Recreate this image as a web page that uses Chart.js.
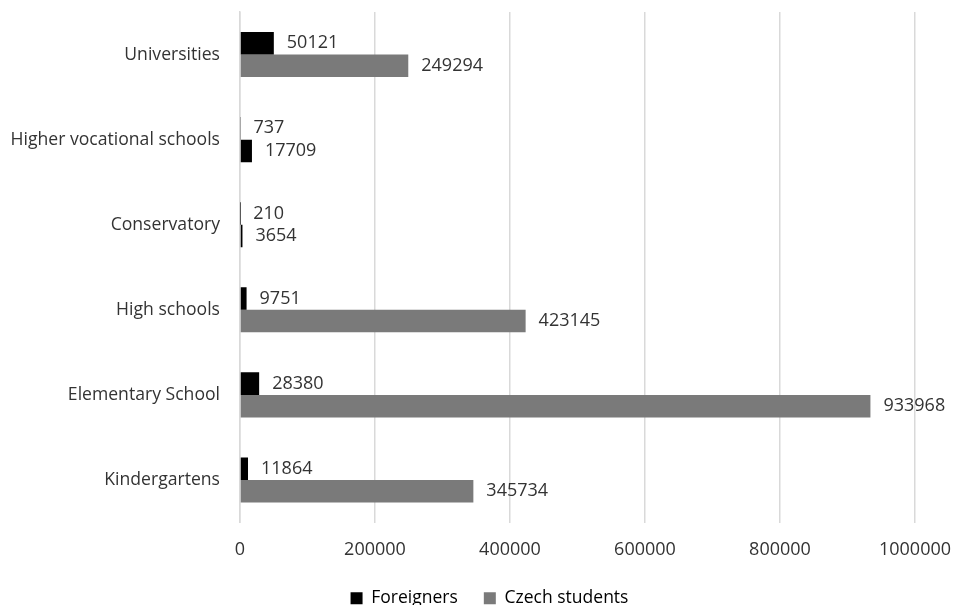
<!DOCTYPE html>
<html>
<head>
<meta charset="utf-8">
<script src="https://cdn.jsdelivr.net/npm/chart.js@4"></script>
<style>
  html, body { margin: 0; padding: 0; background: #fff; }
  #wrap { width: 954px; height: 605px; }
</style>
</head>
<body>
<div id="wrap"><canvas id="chart" width="954" height="605"></canvas></div>
<script>
// Students by school type
const categories = ['Universities', 'Higher vocational schools', 'Conservatory', 'High schools', 'Elementary School', 'Kindergartens'];
const foreigners = [50121, 737, 210, 9751, 28380, 11864];
const czechStudents = [249294, 17709, 3654, 423145, 933968, 345734];
const xTicks = [0, 200000, 400000, 600000, 800000, 1000000];

const textColor = '#333333';
const grayBar = '#7a7a7a';
const fontFamily = '"Open Sans", "Liberation Sans", sans-serif';

// the original colours the small Czech bars black
const czechColors = czechStudents.map((v, i) => (i === 1 || i === 2) ? '#000000' : grayBar);

// value labels drawn just past the end of each bar
const barLabels = {
    id: 'barLabels',
    afterDatasetsDraw(chart) {
        const ctx = chart.ctx;
        ctx.save();
        ctx.font = '18px ' + fontFamily;
        ctx.fillStyle = textColor;
        ctx.textAlign = 'left';
        ctx.textBaseline = 'middle';
        chart.data.datasets.forEach((ds, di) => {
            const meta = chart.getDatasetMeta(di);
            meta.data.forEach((bar, i) => {
                ctx.fillText(String(ds.data[i]), bar.x + 13, bar.y);
            });
        });
        ctx.restore();
    }
};

// legend sits a bit right of the canvas centre in the original
const legendShift = {
    id: 'legendShift',
    afterLayout(chart) {
        if (chart.legend) {
            chart.legend.left += 64;
            chart.legend.right += 0;
        }
    }
};

new Chart(document.getElementById('chart').getContext('2d'), {
    type: 'bar',
    data: {
        labels: categories,
        datasets: [{
            label: 'Foreigners',
            data: foreigners,
            backgroundColor: '#000000',
            categoryPercentage: 0.53,
            barPercentage: 1.0
        }, {
            label: 'Czech students',
            data: czechStudents,
            backgroundColor: czechColors,
            categoryPercentage: 0.53,
            barPercentage: 1.0
        }]
    },
    options: {
        indexAxis: 'y',
        responsive: false,
        animation: false,
        layout: {
            padding: { top: 12, right: 39, left: 0, bottom: -12 }
        },
        plugins: {
            legend: {
                position: 'bottom',
                labels: {
                    color: textColor,
                    font: { family: fontFamily, size: 17.5 },
                    boxWidth: 12,
                    boxHeight: 12,
                    padding: 26,
                    generateLabels(chart) {
                        return [
                            { text: 'Foreigners', fillStyle: '#000000', strokeStyle: '#000000', lineWidth: 0, datasetIndex: 0 },
                            { text: 'Czech students', fillStyle: grayBar, strokeStyle: grayBar, lineWidth: 0, datasetIndex: 1 }
                        ];
                    }
                }
            },
            tooltip: { enabled: false }
        },
        scales: {
            x: {
                min: 0,
                max: 1000000,
                afterBuildTicks(scale) {
                    scale.ticks = xTicks.map(v => ({ value: v }));
                },
                afterFit(scale) {
                    scale.height = 41;
                    scale.paddingLeft = 0;
                    scale.paddingRight = 0;
                },
                grid: {
                    color: '#d9d9d9',
                    lineWidth: 1.5,
                    drawTicks: false
                },
                border: { display: false },
                ticks: {
                    color: textColor,
                    font: { family: fontFamily, size: 18 },
                    padding: 17,
                    maxRotation: 0,
                    callback: v => String(v)
                }
            },
            y: {
                afterFit(scale) {
                    scale.width = 240;
                    scale.paddingTop = 0;
                    scale.paddingBottom = 0;
                },
                grid: { display: false, drawTicks: false },
                border: { color: '#d9d9d9', width: 1.5 },
                ticks: {
                    color: textColor,
                    font: { family: fontFamily, size: 17.6 },
                    padding: 20
                }
            }
        }
    },
    plugins: [barLabels, legendShift]
});
</script>
</body>
</html>
